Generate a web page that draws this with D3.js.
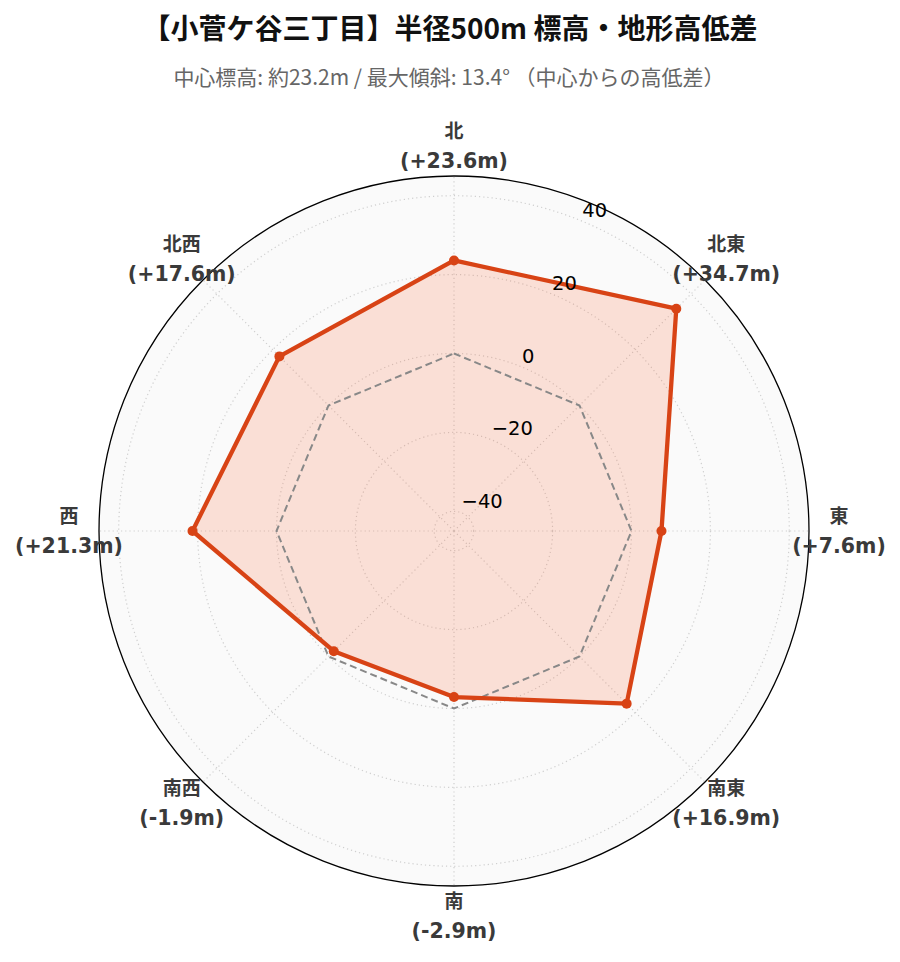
<!DOCTYPE html>
<html><head><meta charset="utf-8">
<script src="https://cdn.jsdelivr.net/npm/d3@7"></script>
<style>body{margin:0;background:#fff}</style>
</head><body>
<svg id="c" width="900" height="962"></svg>
<script>
const directions = ["北","北東","東","南東","南","南西","西","北西"];
const values = [23.6, 34.7, 7.6, 16.9, -2.9, -1.9, 21.3, 17.6];
const radialTicks = [-40, -20, 0, 20, 40];
const titleText = "【小菅ケ谷三丁目】半径500m 標高・地形高低差";
const subtitleText = "中心標高: 約23.2m / 最大傾斜: 13.4° （中心からの高低差）";

const svg = d3.select("#c");
const cx = 454, cy = 531, R = 355;
const r = d3.scaleLinear().domain([-45, 45]).range([0, R]);
const ang = d3.scaleLinear().domain([0, directions.length]).range([0, 2*Math.PI]);
const pt = (i, v) => [cx + r(v)*Math.sin(ang(i)), cy - r(v)*Math.cos(ang(i))];

svg.append("text").attr("x", 450).attr("y", 27).attr("text-anchor","middle")
  .attr("dominant-baseline","central")
  .style("font-family","'Noto Sans CJK JP'").style("font-weight","bold")
  .style("font-size","28px").attr("fill","#111").text(titleText);
svg.append("text").attr("x", 449).attr("y", 76).attr("text-anchor","middle")
  .attr("dominant-baseline","central")
  .style("font-family","'Noto Sans CJK JP'")
  .style("font-size","21px").attr("fill","#666").text(subtitleText);

const g = svg.append("g");
g.append("circle").attr("cx",cx).attr("cy",cy).attr("r",R).attr("fill","#fafafa");

// grid circles
g.selectAll("circle.grid").data(radialTicks).join("circle").attr("class","grid")
  .attr("cx",cx).attr("cy",cy).attr("r",d=>r(d)).attr("fill","none")
  .attr("stroke","#cfcfcf").attr("stroke-width",1.2).attr("stroke-dasharray","1.2,3");
// spokes
g.selectAll("line.spoke").data(d3.range(directions.length)).join("line").attr("class","spoke")
  .attr("x1",cx).attr("y1",cy)
  .attr("x2",i=>pt(i,45)[0]).attr("y2",i=>pt(i,45)[1])
  .attr("stroke","#cfcfcf").attr("stroke-width",1.2).attr("stroke-dasharray","1.2,3");

// fill + line
const closed = values.map((v,i)=>pt(i,v));
const lineGen = d3.line().curve(d3.curveLinearClosed);
g.append("path").attr("d", lineGen(closed)).attr("fill","rgba(255,87,34,0.16)").attr("stroke","none");

// zero reference
const zero = directions.map((d,i)=>pt(i,0));
g.append("path").attr("d", lineGen(zero)).attr("fill","none")
  .attr("stroke","#888").attr("stroke-width",2).attr("stroke-dasharray","7,4");

g.append("path").attr("d", lineGen(closed)).attr("fill","none")
  .attr("stroke","#d84315").attr("stroke-width",4.3).attr("stroke-linejoin","round");
g.selectAll("circle.pt").data(closed).join("circle").attr("class","pt")
  .attr("cx",d=>d[0]).attr("cy",d=>d[1]).attr("r",5).attr("fill","#d84315");

// outer circle
g.append("circle").attr("cx",cx).attr("cy",cy).attr("r",R).attr("fill","none")
  .attr("stroke","#000").attr("stroke-width",1.3);

// radial tick labels at 22.5°
const tickAng = Math.PI/8;
g.selectAll("text.rt").data(radialTicks).join("text").attr("class","rt")
  .attr("x",d=>cx + r(d)*Math.sin(tickAng))
  .attr("y",d=>cy - r(d)*Math.cos(tickAng) - 4.5)
  .style("font-family","'DejaVu Sans'").style("font-size","19.5px").attr("fill","#000")
  .text(d=>d<0 ? "\u2212"+Math.abs(d) : String(d));

// angular labels
const fmt = v => "(" + (v>=0?"+":"-") + Math.abs(v).toFixed(1) + "m)";
const lab = g.selectAll("g.al").data(directions).join("g").attr("class","al")
  .attr("transform",(d,i)=>{const a=ang(i);return `translate(${cx+385*Math.sin(a)},${cy-385*Math.cos(a)})`;});
lab.append("text").attr("y",-15).attr("text-anchor","middle").attr("dominant-baseline","central")
  .style("font-family","'DejaVu Sans','Noto Sans CJK JP'").style("font-weight","bold")
  .style("font-size","19px").attr("fill","#3a3a3a").text(d=>d);
lab.append("text").attr("y",15).attr("text-anchor","middle").attr("dominant-baseline","central")
  .style("font-family","'DejaVu Sans','Noto Sans CJK JP'").style("font-weight","bold")
  .style("font-size","20.5px").attr("fill","#3a3a3a").text((d,i)=>fmt(values[i]));
</script>
</body></html>
